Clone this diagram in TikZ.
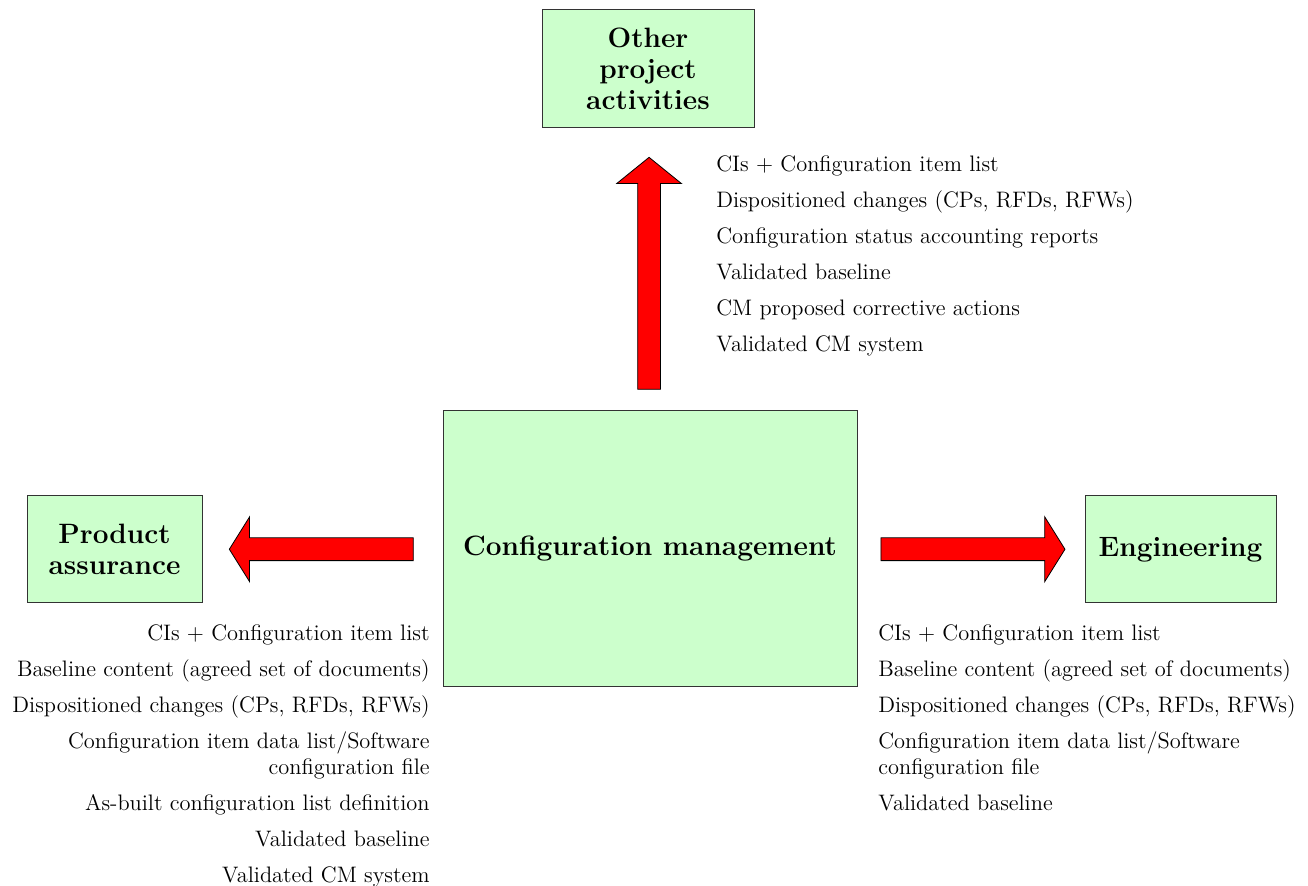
\documentclass[tikz,border=0pt]{standalone}
\usetikzlibrary{shapes.arrows}
\definecolor{boxgreen}{HTML}{CCFFCC}
\tikzset{
  block/.style={rectangle, align=center, fill=boxgreen, draw=black!80, line width=0.5pt, inner sep=0pt, font=\fontsize{14}{15.5}\selectfont\bfseries},
  fatarrow/.style={single arrow, fill=red, draw=black, line width=0.4pt, inner sep=5.5pt, single arrow head extend=10.5pt, minimum width=32pt, single arrow tip angle=116},
  outlist/.style={inner sep=0pt, font=\fontsize{11.2}{13}\selectfont}
}
\begin{document}
\begin{tikzpicture}[x=0.5pt, y=-0.5pt]
					\useasboundingbox (0,0) rectangle (1308,886);
					%Nodes:
					\node[block, minimum width=207pt, minimum height=138pt] (cm) at (650, 549) {Configuration management};
					\node[block, minimum width=106pt, minimum height=59pt] (oth) at (648, 69) {Other\\project\\activities};
					\node[block, minimum width=87.5pt, minimum height=53.5pt] (pa) at (114.5, 549.5) {Product\\assurance};
					\node[block, minimum width=95.5pt, minimum height=53.5pt] (eng) at (1180.5, 549.5) {Engineering};
					%Edges:
					\path (cm.north) -- (oth.south) node[pos=0.47, fatarrow, shape border rotate=90, minimum height=116pt, single arrow tip angle=102] (toOth) {};
					\path (cm.west) -- (pa.east) node[pos=0.49, fatarrow, shape border rotate=180, minimum height=92pt] (toPA) {};
					\path (cm.east) -- (eng.west) node[pos=0.493, fatarrow, minimum height=92pt] (toEng) {};
					%Outputs:
					\node[outlist, align=left, anchor=north west] (othList) at (716, 155) {CIs + Configuration item list\\[5pt]
						Dispositioned changes (CPs, RFDs, RFWs)\\[5pt]
						Configuration status accounting reports\\[5pt]
						Validated baseline\\[5pt]
						CM proposed corrective actions\\[5pt]
						Validated CM system};
					\node[outlist, align=right, anchor=north east] (paList) at (430, 624) {CIs + Configuration item list\\[5pt]
						Baseline content (agreed set of documents)\\[5pt]
						Dispositioned changes (CPs, RFDs, RFWs)\\[5pt]
						Configuration item data list/Software\\
						configuration file\\[5pt]
						As-built configuration list definition\\[5pt]
						Validated baseline\\[5pt]
						Validated CM system};
					\node[outlist, align=left, anchor=north west] (engList) at (878, 624) {CIs + Configuration item list\\[5pt]
						Baseline content (agreed set of documents)\\[5pt]
						Dispositioned changes (CPs, RFDs, RFWs)\\[5pt]
						Configuration item data list/Software\\
						configuration file\\[5pt]
						Validated baseline};
				\end{tikzpicture}
\end{document}
